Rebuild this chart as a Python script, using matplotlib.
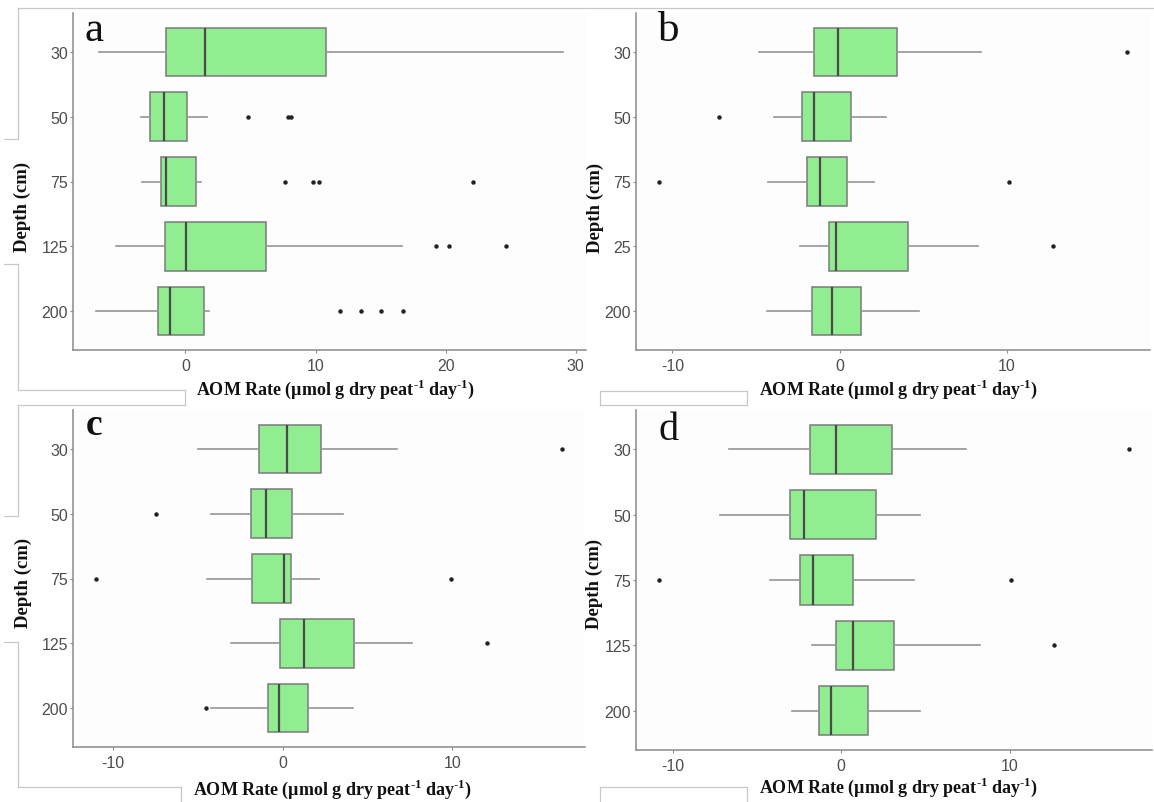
import matplotlib
matplotlib.use("Agg")
import matplotlib.pyplot as plt
from matplotlib.lines import Line2D

plt.rcParams["mathtext.fontset"] = "custom"
plt.rcParams["mathtext.rm"] = "Liberation Serif:bold"
plt.rcParams["mathtext.bf"] = "Liberation Serif:bold"

W, H = 1154, 803

DEPTHS = ["30", "50", "75", "125", "200"]
DEPTHS_B = ["30", "50", "75", "25", "200"]

# per depth: lower whisker, Q1, median, Q3, upper whisker
A_STATS = [
    [-6.62, -1.53, 1.47, 10.78, 29.0],
    [-3.38, -2.72, -1.65, 0.14, 1.65],
    [-3.35, -1.88, -1.53, 0.84, 1.18],
    [-5.32, -1.56, 0.06, 6.18, 16.68],
    [-6.85, -2.14, -1.21, 1.45, 1.79],
]
A_OUTLIERS = [
    [],
    [4.8, 7.9, 8.15],
    [7.69, 9.77, 10.23, 22.08],
    [19.25, 20.23, 24.68],
    [11.91, 13.47, 15.03, 16.73],
]

B_STATS = [
    [-4.83, -1.55, -0.11, 3.43, 8.48],
    [-3.91, -2.23, -1.51, 0.68, 2.78],
    [-4.26, -1.97, -1.20, 0.42, 2.08],
    [-2.38, -0.63, -0.24, 4.09, 8.28],
    [-4.33, -1.64, -0.44, 1.27, 4.74],
]
B_OUTLIERS = [[17.16], [-7.21], [-10.78, 10.14], [12.77], []]

C_STATS = [
    [-4.97, -1.41, 0.24, 2.25, 6.72],
    [-4.24, -1.88, -0.99, 0.53, 3.56],
    [-4.46, -1.81, 0.09, 0.51, 2.12],
    [-3.05, -0.15, 1.28, 4.18, 7.62],
    [-4.20, -0.86, -0.24, 1.52, 4.15],
]
C_OUTLIERS = [[16.44], [-7.45], [-10.98, 9.90], [12.02], [-4.51]]

D_STATS = [
    [-6.65, -1.86, -0.32, 3.01, 7.42],
    [-7.21, -3.05, -2.21, 2.10, 4.70],
    [-4.24, -2.45, -1.65, 0.71, 4.31],
    [-1.75, -0.30, 0.69, 3.16, 8.23],
    [-2.92, -1.30, -0.61, 1.60, 4.70],
]
D_OUTLIERS = [[17.06], [], [-10.78, 10.11], [12.66], []]

XLABEL = r"AOM Rate (µmol g dry peat$^{\text{-}1}$ day$^{\text{-}1}$)"


def fx(x):
    return x / W


def fy(y):
    return 1 - y / H


def draw_panel(fig, rect, stats, outliers, ylabels, ticks):
    left, top, right, bottom = rect
    ax = fig.add_axes([fx(left), fy(bottom), fx(right - left), (bottom - top) / H])
    boxes = [
        dict(whislo=s[0], q1=s[1], med=s[2], q3=s[3], whishi=s[4], fliers=f)
        for s, f in zip(stats, outliers)
    ]
    ax.bxp(
        boxes,
        positions=range(1, 6),
        orientation="horizontal",
        widths=0.75,
        patch_artist=True,
        showcaps=False,
        boxprops=dict(facecolor="#90EE90", edgecolor="#7a7a7a", linewidth=1.1),
        medianprops=dict(color="#4a4a4a", linewidth=1.6),
        whiskerprops=dict(color="#959595", linewidth=1.2),
        flierprops=dict(marker="o", markersize=2.2, markerfacecolor="#222222",
                        markeredgecolor="#222222", linestyle="none"),
    )
    # ggplot-style 5% expansion on the continuous axis
    vals = [v for s in stats for v in s] + [v for f in outliers for v in f]
    lo, hi = min(vals), max(vals)
    pad = 0.05 * (hi - lo)
    ax.set_xlim(lo - pad, hi + pad)
    ax.set_ylim(5.6, 0.4)
    ax.set_xticks(ticks)
    ax.set_xticklabels([str(t) for t in ticks])
    ax.set_yticks(range(1, 6))
    ax.set_yticklabels(ylabels)
    for side in ["top", "right"]:
        ax.spines[side].set_visible(False)
    for side in ["left", "bottom"]:
        ax.spines[side].set_color("#8a8a8a")
        ax.spines[side].set_linewidth(1.1)
    ax.tick_params(axis="both", colors="#8a8a8a", length=2.5, width=0.8,
                   labelsize=11.5, labelcolor="#4d4d4d")
    ax.tick_params(axis="y", pad=1)
    ax.tick_params(axis="x", pad=3)
    for lab in ax.get_xticklabels() + ax.get_yticklabels():
        lab.set_fontfamily("Liberation Sans")
    ax.set_facecolor("#fdfdfd")
    return ax


fig = plt.figure(figsize=(W / 100, H / 100), dpi=100)

# light frame lines left over from assembling the four panels
frame = [
    [(18, 9), (1154, 9)],
    [(18, 9), (18, 140)], [(4, 140), (18, 140)],
    [(4, 265), (18, 265)], [(18, 265), (18, 391)],
    [(18, 391), (185, 391)], [(185, 391), (185, 406)], [(18, 406), (185, 406)],
    [(18, 406), (18, 517)], [(4, 517), (18, 517)],
    [(4, 643), (18, 643)], [(18, 643), (18, 788)],
    [(18, 788), (181, 788)], [(181, 788), (181, 803)],
    [(600, 392), (747, 392)], [(600, 406), (747, 406)],
    [(600, 392), (600, 406)], [(747, 392), (747, 406)],
    [(600, 788), (747, 788)], [(600, 788), (600, 803)], [(747, 788), (747, 803)],
]
for (x0, y0), (x1, y1) in frame:
    fig.add_artist(Line2D([fx(x0), fx(x1)], [fy(y0), fy(y1)], color="#c8c8c8",
                          linewidth=0.9, transform=fig.transFigure))

panels = [
    ((73, 14, 586, 351), A_STATS, A_OUTLIERS, DEPTHS, [0, 10, 20, 30]),
    ((636, 14, 1150, 351), B_STATS, B_OUTLIERS, DEPTHS_B, [-10, 0, 10]),
    ((73, 411, 585, 748), C_STATS, C_OUTLIERS, DEPTHS, [-10, 0, 10]),
    ((636, 411, 1152, 751), D_STATS, D_OUTLIERS, DEPTHS, [-10, 0, 10]),
]
for rect, stats, outl, ylabels, ticks in panels:
    draw_panel(fig, rect, stats, outl, ylabels, ticks)

# axis titles
label_font = dict(family="Liberation Serif", weight="bold", color="#111111")
for x, y in [(335, 389), (898, 389), (332, 789), (898, 787)]:
    fig.text(fx(x), fy(y), XLABEL, ha="center", va="center", fontsize=13, **label_font)
for x, y in [(22, 207), (595, 208), (23, 583), (594, 584)]:
    fig.text(fx(x), fy(y), "Depth (cm)", ha="center", va="center", rotation=90,
             fontsize=13.5, **label_font)

# panel letters
fig.text(fx(85), fy(41), "a", ha="left", va="baseline", fontsize=31,
         family="Liberation Serif", color="#111111")
fig.text(fx(658), fy(41), "b", ha="left", va="baseline", fontsize=31,
         family="Liberation Serif", color="#111111")
fig.text(fx(86), fy(435), "c", ha="left", va="baseline", fontsize=27,
         family="Liberation Serif", weight="bold", color="#111111")
fig.text(fx(659), fy(440), "d", ha="left", va="baseline", fontsize=29,
         family="Liberation Serif", color="#111111")

fig.savefig("out.png", dpi=100, facecolor="white")
